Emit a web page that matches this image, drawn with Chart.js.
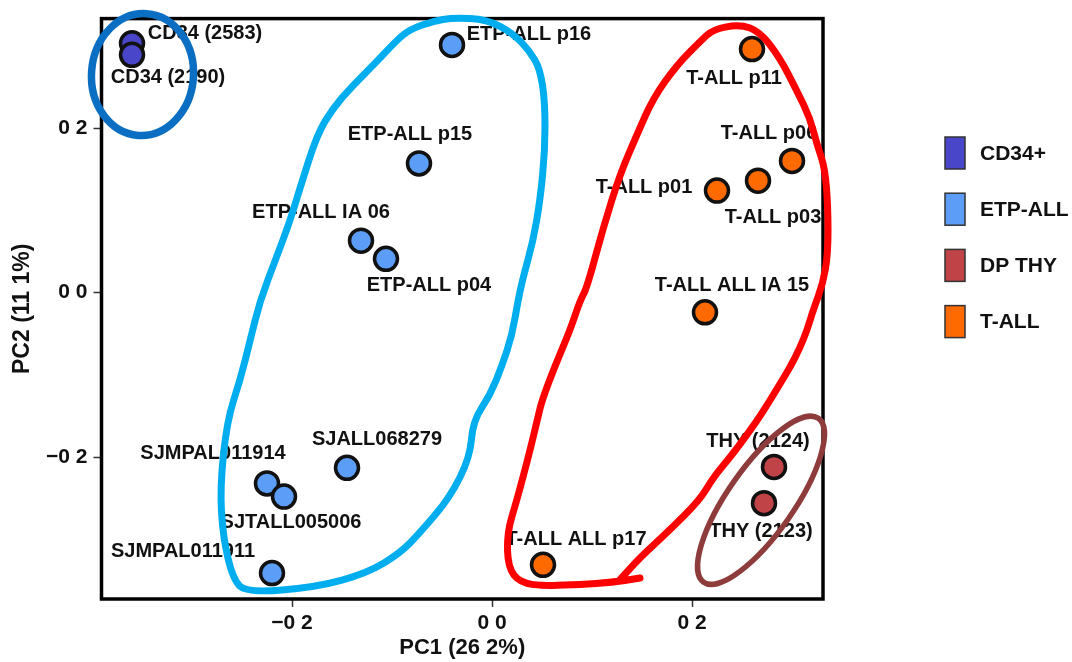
<!DOCTYPE html>
<html>
<head>
<meta charset="utf-8">
<script src="https://cdn.jsdelivr.net/npm/chart.js@4/dist/chart.umd.min.js"></script>
<style>
  html, body { margin: 0; padding: 0; background: #ffffff; }
  #wrap { width: 1072px; height: 662px; }
</style>
</head>
<body>
<div id="wrap"><canvas id="pca" width="1072" height="662"></canvas></div>
<script>
// ---- PCA scores ----
const groupNames = ['CD34+', 'ETP-ALL', 'DP THY', 'T-ALL'];
const sampleNames = [
  'CD34 (2583)', 'CD34 (2190)',
  'ETP-ALL p16', 'ETP-ALL p15', 'ETP-ALL IA 06', 'ETP-ALL p04',
  'SJMPAL011914', 'SJTALL005006', 'SJALL068279', 'SJMPAL011911',
  'THY (2124)', 'THY (2123)',
  'T-ALL p11', 'T-ALL p06', 'T-ALL p03', 'T-ALL p01', 'T-ALL ALL IA 15', 'T-ALL ALL p17'
];
const sampleGroups = [
  'CD34+', 'CD34+',
  'ETP-ALL', 'ETP-ALL', 'ETP-ALL', 'ETP-ALL',
  'ETP-ALL', 'ETP-ALL', 'ETP-ALL', 'ETP-ALL',
  'DP THY', 'DP THY',
  'T-ALL', 'T-ALL', 'T-ALL', 'T-ALL', 'T-ALL', 'T-ALL'
];
const pc1 = [
  -0.360, -0.360,
  -0.040, -0.073, -0.131, -0.106,
  -0.225, -0.208, -0.145, -0.220,
  0.282, 0.272,
  0.260, 0.300, 0.266, 0.225, 0.213, 0.051
];
const pc2 = [
  0.303, 0.289,
  0.301, 0.157, 0.063, 0.041,
  -0.232, -0.248, -0.213, -0.341,
  -0.212, -0.256,
  0.296, 0.160, 0.136, 0.124, -0.024, -0.331
];

// ---- axis ticks ----
const xTickValues = [-0.2, 0, 0.2];
const xTickLabels = ['\u22120 2', '0 0', '0 2'];
const yTickValues = [-0.2, 0, 0.2];
const yTickLabels = ['\u22120 2', '0 0', '0 2'];
const xTitle = 'PC1 (26 2%)';
const yTitle = 'PC2 (11 1%)';

// ---- hand-drawn cluster outlines, in PC1/PC2 units ----
const etpOutline = [
  [-0.039, 0.334], [-0.005, 0.332], [0.021, 0.315], [0.038, 0.293], [0.048, 0.272],
  [0.053, 0.232], [0.053, 0.172], [0.048, 0.111], [0.041, 0.062], [0.031, 0.018],
  [0.026, -0.010], [0.020, -0.052], [0.010, -0.089], [-0.002, -0.125], [-0.019, -0.156],
  [-0.022, -0.200], [-0.042, -0.249], [-0.072, -0.292], [-0.092, -0.317], [-0.125, -0.341],
  [-0.175, -0.358], [-0.245, -0.365], [-0.259, -0.349], [-0.269, -0.297], [-0.272, -0.237],
  [-0.265, -0.156], [-0.252, -0.107], [-0.242, -0.059], [-0.232, -0.010], [-0.217, 0.038],
  [-0.202, 0.087], [-0.192, 0.127], [-0.175, 0.192], [-0.159, 0.224], [-0.142, 0.248],
  [-0.115, 0.281], [-0.095, 0.307], [-0.082, 0.320], [-0.059, 0.330]
];
const tallOutline = [
  [0.148, -0.347], [0.121, -0.353], [0.055, -0.357], [0.028, -0.353], [0.016, -0.334],
  [0.015, -0.292], [0.025, -0.252], [0.038, -0.192], [0.045, -0.156], [0.050, -0.131],
  [0.063, -0.089], [0.078, -0.046], [0.088, -0.010], [0.095, 0.006], [0.111, 0.078],
  [0.128, 0.144], [0.145, 0.192], [0.161, 0.236], [0.185, 0.277], [0.208, 0.305],
  [0.221, 0.320], [0.248, 0.326], [0.268, 0.317], [0.288, 0.285], [0.305, 0.245],
  [0.318, 0.212], [0.325, 0.180], [0.333, 0.151], [0.336, 0.103], [0.336, 0.047],
  [0.331, 0.011], [0.321, -0.022], [0.315, -0.046], [0.308, -0.067], [0.298, -0.091],
  [0.286, -0.115], [0.278, -0.131], [0.265, -0.156], [0.241, -0.196], [0.221, -0.225],
  [0.208, -0.252], [0.175, -0.292], [0.148, -0.322], [0.128, -0.349]
];
const cd34Ring = { center: [-0.3495, 0.265], rx: 51, ry: 61, angle: 4 };
const thyRing = { center: [0.269, -0.2525], rx: 100, ry: 33, angle: -55 };

// ---- styling ----
const groupFill = {
  'CD34+': '#4a46c9',
  'ETP-ALL': '#5b9df7',
  'DP THY': '#c04447',
  'T-ALL': '#ff6a00'
};
// label offsets (px) from each marker centre, same order as sampleNames
const labelOffsets = [
  [73, -10], [36, 23],
  [77, -10], [-9, -29], [-40, -28], [43, 27],
  [-54, -30], [7, 26], [30, -28], [-89, -22],
  [-16, -25], [-3, 28],
  [-18, 29], [-23, -27], [15, 37], [-73, -3], [27, -27], [33, -25]
];
const FONT = '"Liberation Sans", Arial, Helvetica, sans-serif';

const datasets = groupNames.map(g => {
  const pts = [];
  sampleNames.forEach((name, i) => {
    if (sampleGroups[i] === g) pts.push({ x: pc1[i], y: pc2[i], name, idx: i });
  });
  return {
    label: g,
    data: pts,
    backgroundColor: groupFill[g],
    borderColor: '#111111',
    borderWidth: 3.5,
    pointRadius: 11.5,
    pointHoverRadius: 11.5
  };
});

function smoothPath(ctx, pts, closed) {
  const mid = (a, b) => [(a[0] + b[0]) / 2, (a[1] + b[1]) / 2];
  const n = pts.length;
  ctx.beginPath();
  if (closed) {
    const m0 = mid(pts[n - 1], pts[0]);
    ctx.moveTo(m0[0], m0[1]);
    for (let i = 0; i < n; i++) {
      const m = mid(pts[i], pts[(i + 1) % n]);
      ctx.quadraticCurveTo(pts[i][0], pts[i][1], m[0], m[1]);
    }
    ctx.closePath();
  } else {
    ctx.moveTo(pts[0][0], pts[0][1]);
    for (let i = 1; i < n - 1; i++) {
      const m = mid(pts[i], pts[i + 1]);
      ctx.quadraticCurveTo(pts[i][0], pts[i][1], m[0], m[1]);
    }
    ctx.lineTo(pts[n - 1][0], pts[n - 1][1]);
  }
}

const overlayPlugin = {
  id: 'overlay',
  beforeDatasetsDraw(chart) {
    // plot frame
    const { ctx, chartArea: a } = chart;
    ctx.save();
    ctx.lineWidth = 3.5;
    ctx.strokeStyle = '#000000';
    ctx.strokeRect(a.left, a.top, a.right - a.left, a.bottom - a.top);
    ctx.restore();
  },
  afterDatasetsDraw(chart) {
    const { ctx } = chart;
    const xs = chart.scales.x, ys = chart.scales.y;
    const px = p => [xs.getPixelForValue(p[0]), ys.getPixelForValue(p[1])];

    // sample labels
    ctx.save();
    ctx.font = 'bold 20px ' + FONT;
    ctx.fillStyle = '#111111';
    ctx.textAlign = 'center';
    ctx.textBaseline = 'middle';
    chart.data.datasets.forEach((ds, di) => {
      const meta = chart.getDatasetMeta(di);
      meta.data.forEach((el, j) => {
        const idx = ds.data[j].idx;
        const off = labelOffsets[idx];
        ctx.fillText(ds.data[j].name, el.x + off[0], el.y + off[1]);
      });
    });
    ctx.restore();

    // cluster outlines
    ctx.save();
    ctx.lineJoin = 'round';
    ctx.lineCap = 'round';

    ctx.strokeStyle = '#00aeef';
    ctx.lineWidth = 7;
    smoothPath(ctx, etpOutline.map(px), true);
    ctx.stroke();

    ctx.strokeStyle = '#ff0000';
    ctx.lineWidth = 7;
    smoothPath(ctx, tallOutline.map(px), false);
    ctx.stroke();

    [[cd34Ring, '#0a6fc2', 7.5], [thyRing, '#8e3b3b', 5.5]].forEach(([r, col, w]) => {
      const c = px(r.center);
      ctx.beginPath();
      ctx.ellipse(c[0], c[1], r.rx, r.ry, r.angle * Math.PI / 180, 0, Math.PI * 2);
      ctx.strokeStyle = col;
      ctx.lineWidth = w;
      ctx.stroke();
    });
    ctx.restore();
  },
  afterDraw(chart) {
    // legend of sample groups
    const { ctx } = chart;
    ctx.save();
    ctx.font = 'bold 21px ' + FONT;
    ctx.textAlign = 'left';
    ctx.textBaseline = 'middle';
    chart.data.datasets.forEach((ds, i) => {
      const top = 137 + i * 56.2;
      ctx.fillStyle = ds.backgroundColor;
      ctx.fillRect(945, top, 20, 32);
      ctx.lineWidth = 1.5;
      ctx.strokeStyle = '#333333';
      ctx.strokeRect(945, top, 20, 32);
      ctx.fillStyle = '#111111';
      ctx.fillText(ds.label, 980, top + 17);
    });
    ctx.restore();
  }
};

const tickGrid = {
  display: true,
  drawOnChartArea: false,
  drawTicks: true,
  tickLength: 8,
  tickWidth: 1.5,
  tickColor: '#333333'
};

new Chart(document.getElementById('pca'), {
  type: 'scatter',
  data: { datasets },
  options: {
    responsive: false,
    animation: false,
    devicePixelRatio: 1,
    layout: { padding: { top: 17, right: 249, bottom: 0, left: 0 } },
    plugins: {
      legend: { display: false },
      tooltip: { enabled: false }
    },
    scales: {
      x: {
        type: 'linear',
        min: -0.3905,
        max: 0.331,
        afterBuildTicks: s => { s.ticks = xTickValues.map(v => ({ value: v })); },
        afterFit: s => { s.height = 63; },
        grid: tickGrid,
        border: { display: false },
        ticks: {
          color: '#111111',
          padding: 4,
          maxRotation: 0,
          font: { family: FONT, size: 21, weight: 'bold' },
          callback: v => xTickLabels[xTickValues.findIndex(t => Math.abs(t - v) < 1e-9)]
        },
        title: {
          display: true,
          text: xTitle,
          color: '#111111',
          font: { family: FONT, size: 22, weight: 'bold' },
          padding: { top: 0, bottom: 1 }
        }
      },
      y: {
        type: 'linear',
        min: -0.3725,
        max: 0.333,
        afterBuildTicks: s => { s.ticks = yTickValues.map(v => ({ value: v })); },
        afterFit: s => { s.width = 101.5; },
        grid: tickGrid,
        border: { display: false },
        ticks: {
          color: '#111111',
          padding: 6,
          font: { family: FONT, size: 21, weight: 'bold' },
          callback: v => yTickLabels[yTickValues.findIndex(t => Math.abs(t - v) < 1e-9)]
        },
        title: {
          display: true,
          text: yTitle,
          color: '#111111',
          font: { family: FONT, size: 23, weight: 'bold' },
          padding: { top: 9, bottom: 0 }
        }
      }
    }
  },
  plugins: [overlayPlugin]
});
</script>
</body>
</html>
